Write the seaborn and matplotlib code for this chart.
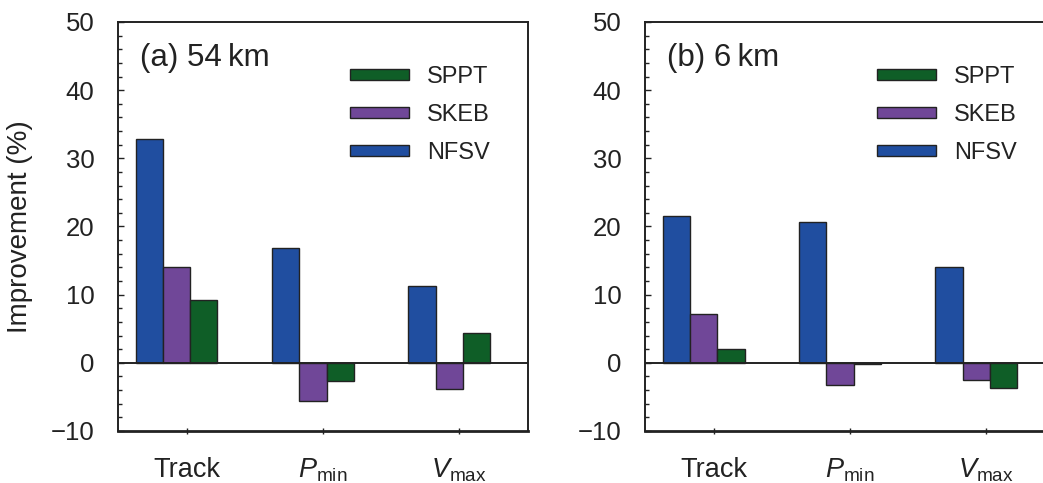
import matplotlib
matplotlib.use("Agg")
import matplotlib.pyplot as plt
from matplotlib.ticker import MultipleLocator
import seaborn as sns
import pandas as pd

# values (improvement in %)
metrics = ["Track", "Pmin", "Vmax"]
metric_labels = ["Track", r"$\mathit{P}_{\mathrm{min}}$", r"$\mathit{V}_{\mathrm{max}}$"]
schemes = ["NFSV", "SKEB", "SPPT"]
nfsv_54km = [32.8, 16.8, 11.3]
skeb_54km = [14.0, -5.6, -3.9]
sppt_54km = [9.2, -2.6, 4.4]
nfsv_6km = [21.6, 20.7, 14.0]
skeb_6km = [7.2, -3.2, -2.5]
sppt_6km = [2.0, -0.2, -3.7]
panel_titles = ["(a) 54\u2009km", "(b) 6\u2009km"]

colors = {"NFSV": "#204ea0", "SKEB": "#704798", "SPPT": "#0f5e27"}
ink = "#222222"

sns.set_style("white")
plt.rcParams["font.family"] = ["Liberation Sans", "DejaVu Sans"]
plt.rcParams["mathtext.fontset"] = "custom"
plt.rcParams["mathtext.rm"] = "Liberation Sans"
plt.rcParams["mathtext.it"] = "Liberation Sans:italic"
plt.rcParams["text.color"] = ink
plt.rcParams["axes.labelcolor"] = ink
plt.rcParams["xtick.color"] = ink
plt.rcParams["ytick.color"] = ink


def make_frame(nfsv, skeb, sppt):
    rows = []
    for scheme, vals in zip(schemes, [nfsv, skeb, sppt]):
        for m, v in zip(metrics, vals):
            rows.append({"metric": m, "scheme": scheme, "value": v})
    return pd.DataFrame(rows)


frames = [make_frame(nfsv_54km, skeb_54km, sppt_54km),
          make_frame(nfsv_6km, skeb_6km, sppt_6km)]

fig = plt.figure(figsize=(10.43, 4.83), dpi=100)
ax_a = fig.add_axes([0.1131, 0.1077, 0.3931, 0.8468])
ax_b = fig.add_axes([0.6184, 0.1077, 0.3931, 0.8468])

for i, (ax, df, title) in enumerate(zip([ax_a, ax_b], frames, panel_titles)):
    sns.barplot(data=df, x="metric", y="value", hue="scheme",
                order=metrics, hue_order=schemes, palette=colors, saturation=1,
                width=0.6, edgecolor=ink, linewidth=1, ax=ax)
    ax.axhline(0, color=ink, lw=1.4, zorder=3)

    ax.set_ylim(-10, 50)
    ax.set_xlim(-0.43, 2.577)
    ax.yaxis.set_major_locator(MultipleLocator(10))
    ax.yaxis.set_minor_locator(MultipleLocator(2))
    ax.set_yticks(range(-10, 51, 10), ["\u221210"] + [str(v) for v in range(0, 51, 10)])
    ax.set_xticks([k + 0.073 for k in range(3)], metric_labels)

    ax.tick_params(axis="y", which="major", direction="in", length=4, width=1,
                   pad=17, labelsize=18.5, left=True)
    ax.tick_params(axis="y", which="minor", direction="in", length=3, width=1, left=True)
    ax.tick_params(axis="x", direction="inout", length=5, width=1,
                   pad=16, labelsize=19.5, bottom=True)

    for side, sp in ax.spines.items():
        sp.set_color(ink)
        sp.set_linewidth(1.4)
    ax.spines["bottom"].set_linewidth(2)

    ax.set_xlabel("")
    if i == 0:
        ax.set_ylabel("Improvement (%)", fontsize=20)
        ax.yaxis.set_label_coords(-0.207, 0.5)
    else:
        ax.set_ylabel("")

    ax.text(0.054, 0.912, title, transform=ax.transAxes, fontsize=22.5,
            ha="left", va="center")

    handles, labels = ax.get_legend_handles_labels()
    ax.legend(handles[::-1], labels[::-1], loc="upper left",
              bbox_to_anchor=(0.567, 0.893), frameon=False, fontsize=17,
              handlelength=2.5, handleheight=0.33, handletextpad=0.75,
              labelspacing=0.68, borderpad=0, borderaxespad=0)

fig.savefig("out.png", dpi=100)
